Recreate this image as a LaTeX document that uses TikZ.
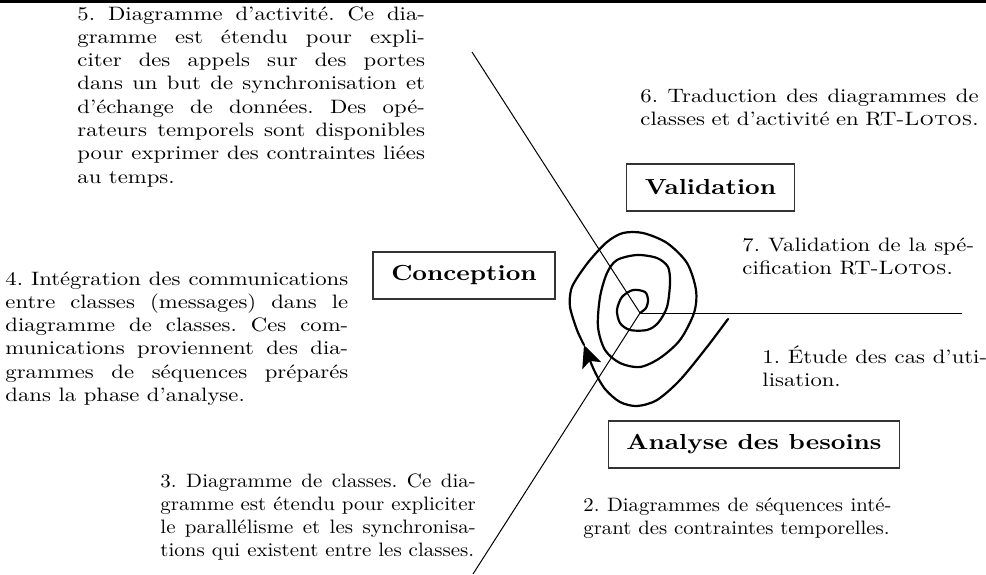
\documentclass[tikz,border=0pt]{standalone}
\usepackage{tikz}
\usetikzlibrary{arrows.meta}
\frenchspacing

\begin{document}
\begin{tikzpicture}[
  x=0.5pt, y=-0.5pt,
  txt/.style={anchor=base west, inner sep=0pt, xscale=#1,
    text width=146pt, align=justify,
    font=\fontsize{9.7}{11.65}\selectfont},
  txt/.default=1.17,
  phase/.style={rectangle, draw=black!80, line width=0.6pt, xscale=1.17,
    minimum height=23.5pt, inner xsep=7.8pt,
    font=\fontsize{10.9}{13}\selectfont\bfseries},
  axe/.style={line width=0.5pt},
  spire/.style={line width=1.1pt, line cap=round, line join=round}
]
\useasboundingbox (0,0) rectangle (986,574);
\fill (0,0) rectangle (986,2.8);

\node[txt, text width=148.5pt] (etape5) at (77,20) {5. Diagramme d'activité. Ce dia-\linebreak
  gramme est étendu pour expli-\linebreak citer des appels sur des portes\linebreak
  dans un but de synchronisation et\linebreak d'échange de données. Des opé-\linebreak
  rateurs temporels sont disponibles\linebreak pour exprimer des contraintes liées\linebreak
  au temps.};
\node[txt, text width=144.5pt] (etape6) at (640,102) {6. Traduction des diagrammes de\linebreak
  classes et d'activité en RT-\textsc{Lotos}.};
\node[txt, text width=99pt] (etape7) at (742,251) {7. Validation de la spé-\linebreak
  cification RT-\textsc{Lotos}.};
\node[txt, text width=146.5pt] (etape4) at (5,285) {4. Intégration des communications\linebreak
  entre classes (messages) dans le\linebreak diagramme de classes. Ces com-\linebreak
  munications proviennent des dia-\linebreak grammes de séquences préparés\linebreak
  dans la phase d'analyse.};
\node[txt, text width=96pt] (etape1) at (762,363) {1. Étude des cas d'uti-\linebreak lisation.};
\node[txt=1.08, text width=146pt] (etape3) at (160,487) {3. Diagramme de classes. Ce dia-\linebreak
  gramme est étendu pour expliciter\linebreak le parallélisme et les synchronisa-\linebreak
  tions qui existent entre les classes.};
\node[txt=1.07, text width=144pt] (etape2) at (583,511) {2. Diagrammes de séquences inté-\linebreak
  grant des contraintes temporelles.};

\node[phase] (validation) at (710.5,187.5) {Validation};
\node[phase] (conception) at (464,275.5) {Conception};
\node[phase] (analyse) at (754,444.5) {Analyse des besoins};

\coordinate (centre) at (640,313);
\coordinate (finA) at (962,313);
\coordinate (finB) at (472,52);
\coordinate (finC) at (473,574);
\draw[axe] (centre) -- (finA);
\draw[axe] (centre) -- (finB);
\draw[axe] (centre) -- (finC);

\draw[spire,-{Stealth[length=11pt,width=10pt,inset=2.5pt]}] plot[smooth] coordinates {(728,319) (707,347)
  (680,380) (657,400) (637,406) (620,402) (605,389) (594,370) (584,345)};
\draw[spire] plot[smooth] coordinates {(584,345) (577,330) (570,307) (571,290) (577,278)
  (590,260) (607,242) (623,233) (643,233) (667,243) (687,263) (696,290) (694,313)
  (680,340) (660,358) (640,367) (620,363) (605,350) (598,327) (600,297) (607,273)
  (617,260) (637,255) (657,258) (668,267) (670,283) (667,307) (658,323) (647,330)
  (630,330) (620,323) (617,310) (622,297) (633,290) (645,292) (648,300) (646,308)
  (640,313)};
\end{tikzpicture}
\end{document}
